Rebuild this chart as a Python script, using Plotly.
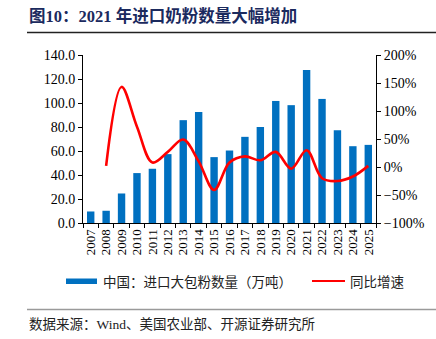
import plotly.graph_objects as go

years = [str(y) for y in range(2007, 2026)]
volume = [9.6, 10.2, 24.6, 41.6, 45.2, 57.4, 85.7, 92.6, 54.9, 60.4, 71.8, 80.1,
          101.7, 98.2, 127.5, 103.4, 77.2, 64.0, 65.1]
yoy_years = years[1:]
yoy = [2, 143, 72, 8, 27, 49, 10, -41, 8, 19, 12, 27, -3, 30, -20, -25, -17, 2]

title_text = "图10：2021 年进口奶粉数量大幅增加"
bar_name = "中国：进口大包粉数量（万吨）"
line_name = "同比增速"
source_text = "数据来源：Wind、美国农业部、开源证券研究所"

W, H = 436, 339
L, R, T, B = 83, 376, 55, 223
def px(x):
    return (x - L) / (R - L)
def py(y):
    return (B - y) / (B - T)

serif = "Liberation Serif, Times New Roman, serif"
cjk = "Noto Sans CJK SC"
BLUE = "#0070C0"
RED = "#FF0000"

fig = go.Figure()
fig.add_trace(go.Bar(x=years, y=volume, name=bar_name, marker_color=BLUE,
                     marker_line_width=0, width=0.48, yaxis="y"))
fig.add_trace(go.Scatter(x=yoy_years, y=yoy, name=line_name, mode="lines",
                         line=dict(color=RED, width=2.6, shape="spline", smoothing=1.0),
                         yaxis="y2"))

fig.update_layout(
    width=W, height=H, margin=dict(l=L, r=W - R, t=T, b=H - B),
    paper_bgcolor="white", plot_bgcolor="white", showlegend=False,
    xaxis=dict(type="category", categoryorder="array", categoryarray=years,
               tickmode="array", tickvals=years, ticktext=years,
               showline=True, linecolor="black", linewidth=1,
               ticks="outside", tickson="boundaries", ticklen=4, tickcolor="black",
               tickangle=-90, tickfont=dict(family=serif, size=13, color="black"),
               showgrid=False, range=[-0.5, 18.5]),
    yaxis=dict(range=[0, 140], dtick=20, tickformat=".1f", showline=True,
               linecolor="black", linewidth=1, ticks="outside", ticklen=4,
               tickcolor="black", showgrid=False, zeroline=False,
               tickfont=dict(family=serif, size=14, color="black")),
    yaxis2=dict(range=[-100, 200], dtick=50, ticksuffix="%", overlaying="y",
                side="right", showline=True, linecolor="black", linewidth=1,
                ticks="outside", ticklen=4, tickcolor="black", showgrid=False,
                zeroline=False, tickfont=dict(family=serif, size=14, color="black")),
)

shapes = [
    dict(type="line", xref="paper", yref="paper", x0=px(27), x1=px(436),
         y0=py(32.5), y1=py(32.5), line=dict(color="#222222", width=1.5)),
    dict(type="line", xref="paper", yref="paper", x0=px(27), x1=px(436),
         y0=py(309.5), y1=py(309.5), line=dict(color="#9a9a9a", width=1.5)),
    dict(type="rect", xref="paper", yref="paper", x0=px(66), x1=px(97),
         y0=py(284), y1=py(278.5), fillcolor=BLUE, line=dict(width=0)),
    dict(type="line", xref="paper", yref="paper", x0=px(312), x1=px(345),
         y0=py(281), y1=py(281), line=dict(color=RED, width=2)),
]
annotations = [
    dict(text="<b>" + title_text + "</b>", xref="paper", yref="paper", x=px(27), y=py(16),
         xanchor="left", yanchor="middle", showarrow=False,
         font=dict(family=serif + ", " + cjk, size=16.5, color="#1B2A5E")),
    dict(text=bar_name, xref="paper", yref="paper", x=px(101), y=py(281),
         xanchor="left", yanchor="middle", showarrow=False,
         font=dict(family=cjk, size=13.5, color="#222222")),
    dict(text=line_name, xref="paper", yref="paper", x=px(348), y=py(281),
         xanchor="left", yanchor="middle", showarrow=False,
         font=dict(family=cjk, size=13.5, color="#222222")),
    dict(text=source_text, xref="paper", yref="paper", x=px(27), y=py(324),
         xanchor="left", yanchor="middle", showarrow=False,
         font=dict(family=serif + ", " + cjk, size=13.5, color="#222222")),
]
fig.update_layout(shapes=shapes, annotations=annotations)
fig.write_html("out.html")
